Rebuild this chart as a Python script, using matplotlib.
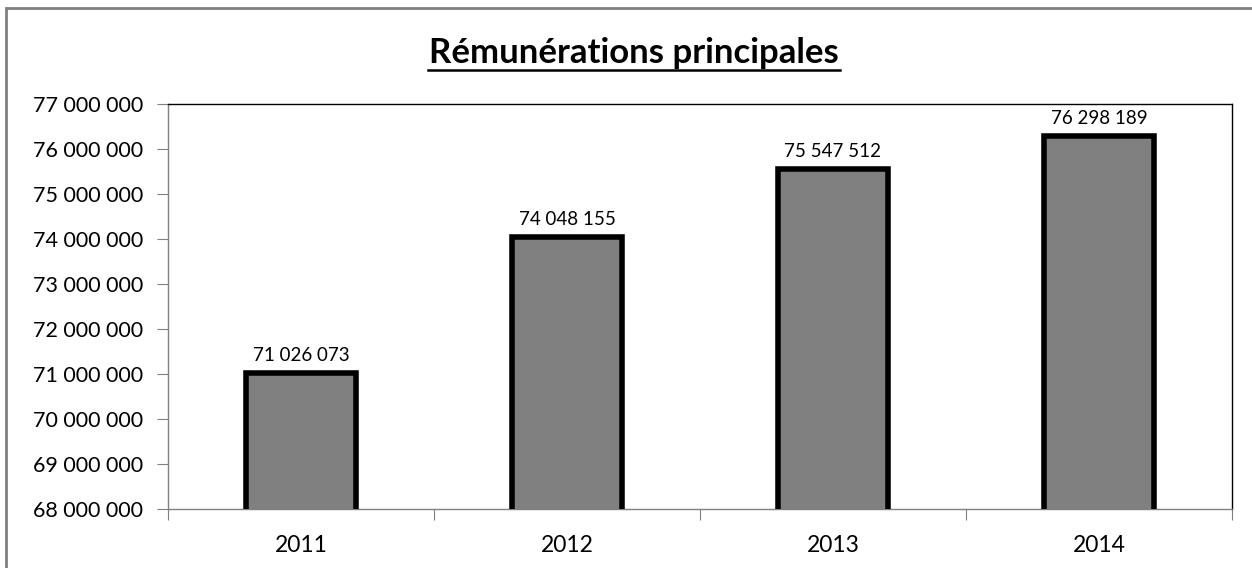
import matplotlib
matplotlib.use("Agg")
import matplotlib.pyplot as plt
import matplotlib.lines as mlines
import matplotlib.patches as mpatches
from matplotlib.ticker import FuncFormatter

years = ["2011", "2012", "2013", "2014"]
remunerations = [71026073, 74048155, 75547512, 76298189]
title = "Rémunérations principales"


def spaced(v, pos=None):
    return "{:,.0f}".format(v).replace(",", " ")


plt.rcParams["font.family"] = ["Lato", "DejaVu Sans"]

fig = plt.figure(figsize=(12.52, 5.68), dpi=100)
W, H = 1252, 568
ax = fig.add_axes([168 / W, 1 - 509 / H, (1232 - 168) / W, (509 - 104) / H])

x = range(len(years))
bars = ax.bar(x, remunerations, width=0.41, color="#808080",
              edgecolor="black", linewidth=4, zorder=3)

for xi, v in zip(x, remunerations):
    ax.text(xi, v + 200000, spaced(v), ha="center", va="bottom",
            fontsize=13.5, color="black")

ax.set_xlim(-0.5, len(years) - 0.5)
ax.set_ylim(68000000, 77000000)
ax.set_yticks(range(68000000, 77000001, 1000000))
ax.yaxis.set_major_formatter(FuncFormatter(spaced))
ax.tick_params(axis="y", labelsize=15.5, length=8, color="#808080", pad=10)

ax.set_xticks([i - 0.5 for i in range(len(years) + 1)], minor=False)
ax.set_xticklabels([])
ax.set_xticks(list(x), minor=True)
ax.set_xticklabels(years, minor=True, fontsize=16.5)
ax.tick_params(axis="x", which="major", length=8, color="#808080")
ax.tick_params(axis="x", which="minor", length=0, pad=19)

ax.spines["left"].set_color("#808080")
ax.spines["bottom"].set_color("#808080")
ax.spines["top"].set_color("black")
ax.spines["right"].set_color("black")
for s in ax.spines.values():
    s.set_linewidth(1)

fig.text(634 / W, 1 - 53 / H, title, ha="center", va="center",
         fontsize=25, fontweight="bold")
fig.add_artist(mlines.Line2D([428 / W, 840 / W], [1 - 70 / H, 1 - 70 / H],
                             color="black", linewidth=1.8))

fig.add_artist(mpatches.Rectangle((6 / W, -0.05), 1.1, 1 - 8 / H + 0.05,
                                  transform=fig.transFigure, fill=False,
                                  edgecolor="#808080", linewidth=2))

fig.savefig("out.png", dpi=100)
